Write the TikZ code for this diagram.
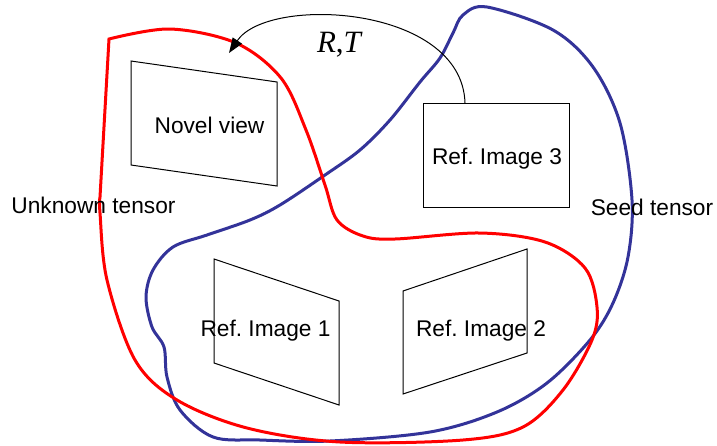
\documentclass[tikz,border=0pt]{standalone}
\usepackage{fontspec}
\setmainfont{Liberation Sans}
\newfontfamily\rtfont{Liberation Serif}
\usetikzlibrary{positioning}
\usetikzlibrary{arrows.meta}
\definecolor{seedblue}{RGB}{51,51,153}
\frenchspacing
\tikzset{
    lbl/.style = {inner sep=0pt, anchor=base, font=\fontsize{11.35}{13}\selectfont, text=black},
    rtlbl/.style = {inner sep=0pt, anchor=base, font=\fontsize{15.5}{18}\rtfont, text=black},
    frame/.style = {-, line width=0.5pt, black, line join=miter},
    edgered/.style = {line width=1.5pt, red},
    edgeblue/.style = {line width=1.5pt, seedblue},
    rtarrow/.style = {-{Triangle[length=7.5pt,width=5.5pt]}, line width=0.5pt, black},
}
\begin{document}
\begin{tikzpicture}[x=0.5pt,y=-0.5pt]
\path[use as bounding box] (0,0) rectangle (717,445);
% seed tensor
\draw[edgeblue] plot[smooth cycle, tension=0.55] coordinates {(487,7) (553,30) (593,67) (620,123) (632,200) (628,257) (613,303) (590,340) (547,383) (497,412) (430,432) (330,441) (260,440) (213,437) (180,410) (167,377) (164,347) (152,327) (146,297) (153,270) (173,247) (207,235) (250,220) (280,205) (325,175) (360,150) (390,120) (420,82) (440,58) (453,33) (463,15)};
% unknown tensor
\draw[edgered] plot[smooth, tension=0.55] coordinates {(109,39) (170,29) (236,43) (281,78) (306,130) (325,185) (337,220) (363,236) (395,239) (480,233) (545,242) (585,268) (597,307) (592,340) (563,390) (523,427) (463,440) (340,442) (247,428) (177,400) (135,360) (107,280) (100,213) (100,197)} -- cycle;
%
\draw[frame] (131,61) -- (277,82) -- (277,186) -- (131,165) -- cycle;
\draw[frame] (214,259) -- (339,301) -- (339,405) -- (214,363) -- cycle;
\draw[frame] (403,291) -- (527,249) -- (527,353) -- (403,394) -- cycle;
\draw[frame] (423,103) rectangle (569,207);
%
\node[lbl] (novel) at (209.5,133) {Novel view};
\node[lbl] (img3) at (497,164.5) {Ref. Image 3};
\node[lbl] (img1) at (265.5,336.5) {Ref. Image 1};
\node[lbl] (img2) at (481,336.5) {Ref. Image 2};
\node[lbl] (unknown) at (93.5,213.3) {Unknown tensor};
\node[lbl] (seed) at (652,215) {Seed tensor};
\node[rtlbl] (rt) at (339,52.7) {\itshape R\upshape,\itshape T};
%
\coordinate (rtstart) at (465,103);
\coordinate (rtend) at (229,53);
\draw[rtarrow] (rtstart) .. controls (462,5) and (268,-5) .. (rtend);
\end{tikzpicture}
\end{document}
